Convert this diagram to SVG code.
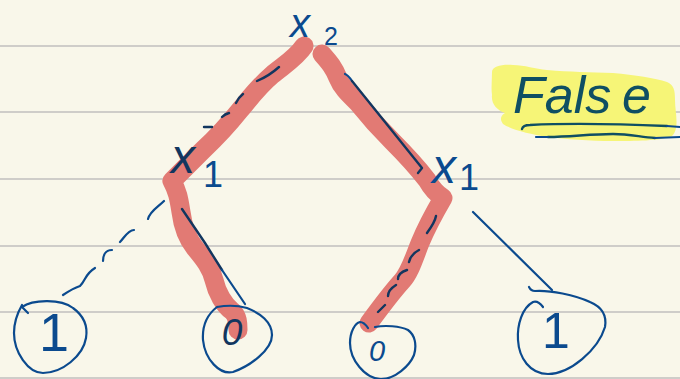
<svg xmlns="http://www.w3.org/2000/svg" width="680" height="379" viewBox="0 0 680 379">
<style>
.rule{stroke:#cfcdc9;stroke-width:2;fill:none}
.red{stroke:#e27a74;stroke-width:19;fill:none;stroke-linecap:round;stroke-linejoin:round}
.ink{stroke:#0b4a8e;stroke-width:2.2;fill:none;stroke-linecap:round;stroke-linejoin:round}
.dark{stroke:#12365f;stroke-width:2.4;fill:none;stroke-linecap:round;stroke-linejoin:round}
.teal{stroke:#0f4f63;stroke-width:2.4;fill:none;stroke-linecap:round}
text{font-family:"Liberation Sans",Arial,sans-serif;fill:#0b4a8e}
.i{font-style:italic}
</style>
<rect width="680" height="379" fill="#f9f7ea"/>
<g id="rules">
<path class="rule" d="M0 46H680M0 112H680M0 179H680M0 246H680M0 312H680M0 378H680"/>
</g>
<g id="highlight">
<path fill="#f6f577" d="M492 72C492 66 503 64 513 65C525 65 535 69 547 70C570 72 590 72 613 73C635 75 655 78 667 82C674 85 675 90 675 100C675 112 680 128 672 136C660 141 635 141 613 141C590 141 565 139 547 137C530 134 512 130 503 124C500 120 500 116 505 113C497 110 491 104 492 95C491 88 492 80 492 72Z"/>
</g>
<g id="connectors">
<path class="red" d="M304 46C296 58 284 65 272 75C258 87 250 98 240 110C228 125 218 136 203 150L172 181C178 192 179 200 181 212C183 228 187 238 195 248C205 260 211 268 214 280C217 293 224 305 232 311C238 316 238 324 238 330"/>
<path class="red" d="M322 54C330 63 334 68 338 78C342 88 350 95 358 103C366 113 378 127 392 141C404 153 417 167 427 180C432 189 437 194 443 198C436 210 427 226 420 243C414 258 410 272 402 281C392 292 380 308 369 323"/>
<path class="dark" d="M257 81Q269 76 279 67M236 103Q239 97 243 94M222 117Q225 114 229 113M204 127H212"/>
<path class="ink" d="M345 74Q348 75 352 81"/>
<path class="dark" d="M352 81L422 168L418 173"/>
<path class="dark" d="M182 209L205 243L222 270"/>
<path class="ink" d="M222 270L245 304"/>
<path class="dark" d="M436 216Q435 222 427 233M419 250Q411 254 409 262M407 270Q398 273 398 279M396 285Q388 290 388 296M385 305L378 312"/>
<path class="ink" d="M164 201C158 207 150 211 148 219M134 230C128 230 124 238 120 242M112 250C105 250 103 256 103 261M95 268C85 274 86 280 80 286C74 288 69 291 63 295"/>
<path class="ink" d="M473 212L552 290"/>
</g>
<g id="node-x2">
<text class="i" x="290" y="37" font-size="40">x</text>
<text x="324" y="45" font-size="25">2</text>
</g>
<g id="node-x1-left">
<text class="i" x="171" y="173" font-size="48" style="fill:#12365f">x</text>
<text x="203" y="187" font-size="36">1</text>
</g>
<g id="node-x1-right">
<text class="i" x="432" y="183" font-size="48">x</text>
<text x="459" y="190" font-size="36">1</text>
</g>
<g id="node-false">
<text class="i" x="513" y="113" font-size="52" style="fill:#0f4f63">Fals<tspan x="622">e</tspan></text>
<path class="teal" d="M522 129Q523 125 530 125C570 123 620 124 667 126"/>
<path class="ink" d="M667 126L680 127"/>
<path class="teal" d="M548 137C570 137 590 134 613 134C630 134 640 137 655 138"/>
<path class="ink" d="M536 137H548M655 138L680 137"/>
</g>
<g id="node-leaf-1-left">
<path class="ink" d="M28 313L22 307C32 300 60 298 73 308C84 316 88 326 86 338C83 356 62 373 43 373C28 373 14 352 14 333C14 320 18 312 22 305"/>
<text x="54" y="351" font-size="54" text-anchor="middle">1</text>
</g>
<g id="node-leaf-0-left">
<path class="ink" d="M217 307C228 305 240 306 247 308C260 313 272 322 272 335C272 350 250 366 233 372C220 375 205 360 203 340C202 325 208 314 217 307"/>
<text class="i" x="232" y="345" font-size="37" text-anchor="middle" style="fill:#12365f">0</text>
</g>
<g id="node-leaf-0-right">
<path class="ink" d="M375 327C385 325 400 326 408 330C415 335 417 345 414 355C410 365 395 380 380 379C365 378 350 360 350 343C350 332 355 323 360 322C363 322 366 325 368 328"/>
<text class="i" x="377" y="361" font-size="29" text-anchor="middle">0</text>
</g>
<g id="node-leaf-1-right">
<path class="ink" d="M543 307C540 303 536 301 533 302C522 308 517 325 518 340C519 358 530 374 548 374C570 374 598 350 605 327C607 315 602 307 590 302C575 295 550 290 535 291C531 291 530 289 529 287"/>
<text x="556" y="348" font-size="50" text-anchor="middle">1</text>
</g>
</svg>
